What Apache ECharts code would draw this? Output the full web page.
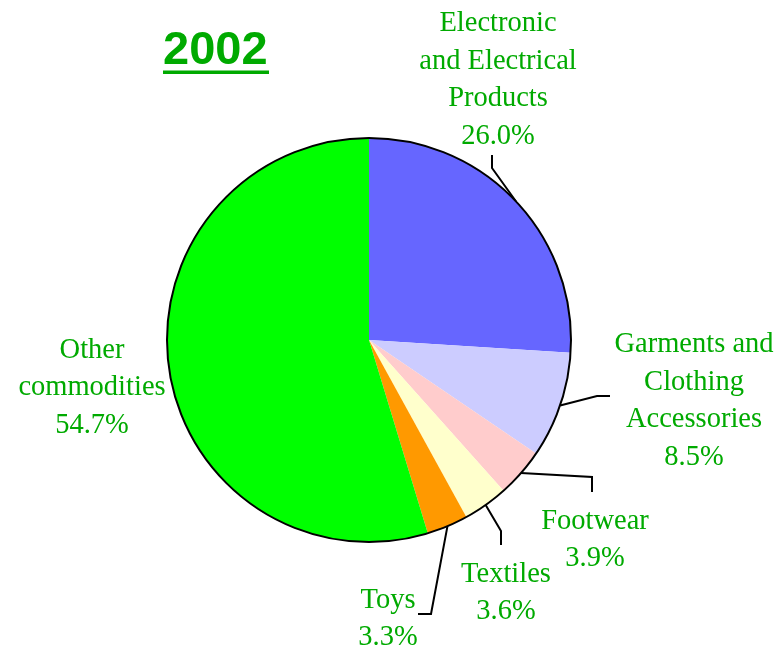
<!DOCTYPE html>
<html>
<head>
<meta charset="utf-8">
<script src="https://cdn.jsdelivr.net/npm/echarts@6/dist/echarts.min.js"></script>
<style>
  html, body { margin: 0; padding: 0; background: #fff; }
  #chart { width: 784px; height: 648px; }
</style>
</head>
<body>
<div id="chart"></div>
<script>
// Export shares by commodity, 2002 (%), clockwise from 12 o'clock
const categories = [
  'Electronic\nand Electrical\nProducts',
  'Garments and\nClothing\nAccessories',
  'Footwear',
  'Textiles',
  'Toys',
  'Other\ncommodities'
];
const shares = [26.0, 8.5, 3.9, 3.6, 3.3, 54.7];
const sliceColors = ['#6666ff', '#ccccff', '#ffcccc', '#ffffcc', '#ff9900', '#00ff00'];
const yearTitle = '2002';

// Label placement: text centre and leader-line bend points (after the sector anchor)
const labelSpots = [
  { x: 498, y: 80,  bends: [[492, 168], [492, 155]] },
  { x: 694, y: 401, bends: [[597, 396], [610, 396]] },
  { x: 595, y: 540, bends: [[592, 477], [592, 492]] },
  { x: 506, y: 593, bends: [[501, 531], [501, 545]] },
  { x: 388, y: 619, bends: [[431, 614], [418, 614]] },
  { x: 92,  y: 388, bends: null }
];

const GREEN_TEXT = '#00aa00';
const PIE_CENTER = [369, 340];
const PIE_RADIUS = 202;

const chart = echarts.init(document.getElementById('chart'), null, { renderer: 'canvas' });

const pieData = categories.map((name, i) => ({
  name: name,
  value: shares[i],
  itemStyle: { color: sliceColors[i] },
  labelLine: { show: labelSpots[i].bends !== null }
}));

chart.setOption({
  animation: false,
  backgroundColor: '#ffffff',
  graphic: [
    {
      type: 'text',
      left: 163,
      top: 28,
      style: {
        text: yearTitle,
        font: 'bold 47px "Liberation Sans", Arial, sans-serif',
        fill: GREEN_TEXT
      }
    },
    {
      type: 'rect',
      shape: { x: 163, y: 70.5, width: 106, height: 3.5 },
      style: { fill: GREEN_TEXT }
    }
  ],
  series: [
    {
      type: 'pie',
      center: PIE_CENTER,
      radius: PIE_RADIUS,
      startAngle: 90,
      clockwise: true,
      avoidLabelOverlap: false,
      emphasis: { disabled: true },
      itemStyle: { borderWidth: 0 },
      label: {
        show: true,
        position: 'outside',
        color: GREEN_TEXT,
        fontFamily: '"Liberation Serif", "Times New Roman", serif',
        fontSize: 28.5,
        lineHeight: 37.5,
        align: 'center',
        formatter: p => p.name + '\n' + p.value.toFixed(1) + '%'
      },
      labelLine: {
        show: true,
        length: 10,
        length2: 10,
        lineStyle: { color: '#000', width: 2 }
      },
      labelLayout: params => {
        const spot = labelSpots[params.dataIndex];
        const out = { x: spot.x, y: spot.y, align: 'center', verticalAlign: 'middle' };
        if (spot.bends && params.labelLinePoints) {
          out.labelLinePoints = [params.labelLinePoints[0]].concat(spot.bends);
        }
        return out;
      },
      data: pieData
    },
    {
      // outer rim of the pie
      type: 'pie',
      center: PIE_CENTER,
      radius: PIE_RADIUS,
      silent: true,
      label: { show: false },
      labelLine: { show: false },
      itemStyle: { color: 'rgba(0,0,0,0)', borderColor: '#000', borderWidth: 2 },
      data: [{ value: 1, name: 'rim' }]
    }
  ]
});
</script>
</body>
</html>
